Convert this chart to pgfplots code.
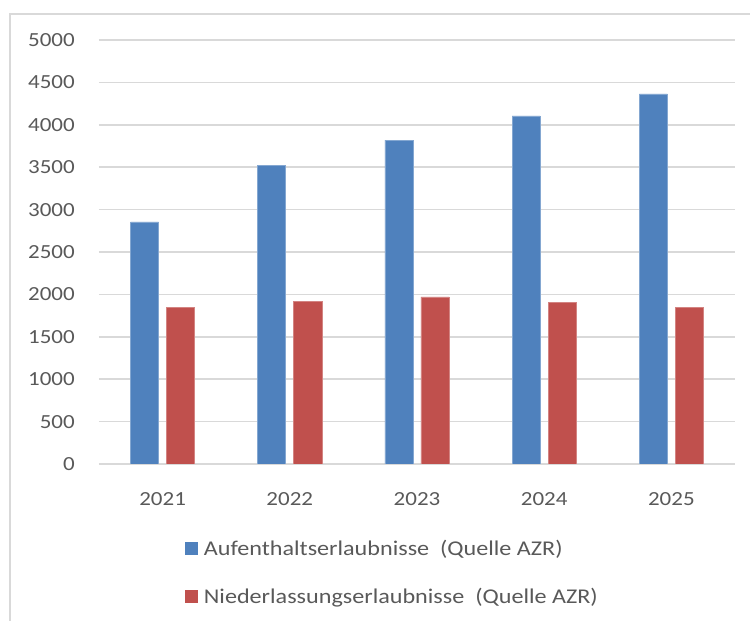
\documentclass[border=0pt]{standalone}
\usepackage{fontspec}
\setmainfont{Carlito}[FakeStretch=1.15]
\usepackage{pgfplots}
\pgfplotsset{compat=1.18}
\definecolor{barblue}{RGB}{79,129,189}
\definecolor{barred}{RGB}{192,80,77}
\definecolor{gridgray}{RGB}{217,217,217}
\definecolor{textgray}{RGB}{89,89,89}
\begin{document}
\begin{tikzpicture}[x=1pt,y=1pt]
\path[use as bounding box] (0,0) rectangle (750,621);
\draw[gridgray, line width=1.5pt] (10,0) -- (10,607) -- (750,607);
\begin{axis}[
  at={(99pt,157pt)}, anchor=south west,
  scale only axis, width=636pt, height=424pt,
  ymin=0, ymax=5000, ytick={0,500,...,5000},
  xmin=-0.5, xmax=4.5, xtick={0,1,2,3,4},
  xticklabels={2021,2022,2023,2024,2025},
  ybar=8pt, bar width=28pt,
  axis x line*=bottom, axis y line*=left,
  y axis line style={draw=none},
  x axis line style={gridgray, line width=1.5pt},
  tick style={draw=none},
  ymajorgrids, grid style={gridgray, line width=1.5pt},
  /pgf/number format/assume math mode=true,
  /pgf/number format/1000 sep={},
  ticklabel style={font=\fontsize{20}{24}\selectfont, text=textgray, inner sep=0pt},
  yticklabel shift=24pt,
  xticklabel shift=24pt,
  legend style={at={(axis description cs:0.13,-0.17)}, anchor=north west,
    draw=none, fill=none, font=\fontsize{21}{25}\selectfont, text=textgray,
    row sep=27pt, column sep=4pt},
  legend cell align=left,
  legend image code/.code={\fill[#1,draw=none] (0pt,-6.5pt) rectangle (13pt,6.5pt);},
]
\addplot[fill=barblue, draw=barblue!70!white, line width=0.6pt] coordinates {(0,2855) (1,3525) (2,3820) (3,4105) (4,4365)};
\addplot[fill=barred, draw=barred!70!white, line width=0.6pt] coordinates {(0,1845) (1,1920) (2,1970) (3,1910) (4,1845)};
\legend{Aufenthaltserlaubnisse\ \ (Quelle AZR), Niederlassungserlaubnisse\ \ (Quelle AZR)}
\end{axis}
\end{tikzpicture}
\end{document}
